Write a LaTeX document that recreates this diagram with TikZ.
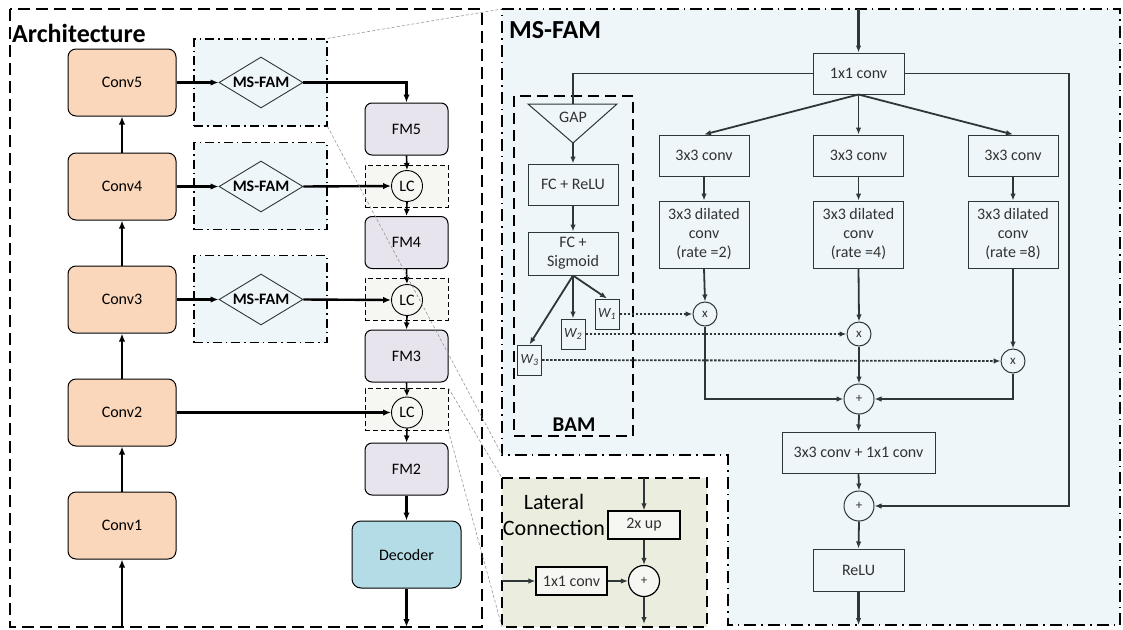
\documentclass[tikz,border=0pt]{standalone}
\usepackage{fontspec}
\setmainfont{Carlito}
\usetikzlibrary{arrows.meta,shapes.geometric}
\newlength{\du}
\setlength{\du}{1pt}

\begin{document}
\begin{tikzpicture}[even odd rule,
  convbox/.style={draw=black, line width=1\du, fill=convfill, rounded corners=8\du,
    minimum width=108\du, minimum height=67\du, inner sep=0pt, font=\fontsize{16}{19}\selectfont},
  fmbox/.style={draw=black, line width=1\du, fill=fmfill, rounded corners=7\du,
    minimum width=83\du, minimum height=52\du, inner sep=0pt, font=\fontsize{16}{19}\selectfont},
  decbox/.style={fmbox, fill=decfill, rounded corners=9\du, minimum width=109\du, minimum height=67\du},
  fambox/.style={draw=black, fill=famfill, line width=1.2\du,
    dash pattern=on 9\du off 4\du on 1.5\du off 4\du, minimum width=133\du, minimum height=87\du},
  famdiamond/.style={shape=diamond, aspect=1.65, draw=famline, fill=famfill, line width=0.9\du,
    minimum width=84\du, minimum height=51\du, inner sep=0pt, font=\bfseries\fontsize{16}{19}\selectfont},
  lcbox/.style={draw=black, fill=lcfill, line width=0.9\du, dash pattern=on 5\du off 3\du,
    minimum width=83\du, minimum height=42\du},
  lcnode/.style={circle, draw=black, fill=lcfill, line width=0.9\du, minimum size=31\du,
    inner sep=0pt, font=\fontsize{16}{19}\selectfont},
  thickarrow/.style={draw=black, line width=2.4\du, -{Latex[length=8pt,width=6.5pt]}},
  linkarrow/.style={draw=black, line width=1.6\du, -{Latex[length=7pt,width=6pt]}},
  archpanel/.style={draw=black, line width=1.8\du, dash pattern=on 12\du off 6\du},
  fampanel/.style={draw=black, fill=famfill, line width=1.8\du,
    dash pattern=on 12\du off 5\du on 1.5\du off 5\du},
  bampanel/.style={draw=black, line width=1.8\du, dash pattern=on 11\du off 6\du},
  latpanel/.style={draw=black, fill=latfill, line width=2.2\du, dash pattern=on 11\du off 6\du},
  zoomline/.style={draw=zoomgray, line width=0.6\du, dash pattern=on 3\du off 2\du},
  opbox/.style={draw=famline, fill=famfill, line width=1\du, text=famtext, align=center,
    minimum width=90\du, minimum height=41\du, inner sep=0pt, font=\fontsize{16}{19}\selectfont},
  wbox/.style={opbox, minimum width=24\du, minimum height=30\du, font=\itshape\fontsize{14}{16}\selectfont},
  opcircle/.style={circle, draw=famline, fill=famfill, line width=1\du, inner sep=0pt,
    text=famtext, font=\fontsize{13}{15}\selectfont},
  famarrow/.style={draw=famline, line width=1.8\du, -{Latex[length=7pt,width=5.5pt]}},
  famlink/.style={draw=famline, line width=1.8\du},
  dotarrow/.style={famarrow, dash pattern=on 2.5\du off 1.5\du},
  titletext/.style={inner sep=0pt, font=\bfseries\fontsize{26}{30}\selectfont}]
\pgftransformxscale{1.000000}
\pgftransformyscale{-1.000000}
\definecolor{convfill}{RGB}{250,214,186}
\definecolor{fmfill}{RGB}{232,228,238}
\definecolor{decfill}{RGB}{180,220,230}
\definecolor{famfill}{RGB}{238,246,249}
\definecolor{lcfill}{RGB}{246,247,242}
\definecolor{latfill}{RGB}{235,238,222}
\definecolor{famline}{RGB}{45,55,55}
\definecolor{famtext}{RGB}{50,50,50}
\definecolor{zoomgray}{RGB}{150,150,150}
\useasboundingbox (0\du,0\du) rectangle (1123\du,629\du);
% panels
\draw[archpanel] (10\du,9\du) rectangle (482\du,627\du);
\coordinate (famNW) at (502\du,9\du);
\coordinate (famSW) at (502\du,455\du);
\draw[fampanel] (famNW) -- (1120\du,9\du) -- (1120\du,625\du) -- (728\du,625\du)
  -- (728\du,455\du) -- (famSW) -- cycle;
\coordinate (latNW) at (502\du,478\du);
\coordinate (latSW) at (502\du,627\du);
\draw[latpanel] (latNW) rectangle (707\du,627\du);
\draw[bampanel] (514\du,96\du) rectangle (633\du,436\du);
% titles
\node[titletext, anchor=west] (archtitle) at (12\du,33\du) {Architecture};
\node[titletext, anchor=west] (famtitle) at (509\du,30\du) {MS-FAM};
\node[titletext, font=\bfseries\fontsize{21}{25}\selectfont] (bamtitle) at (574\du,425\du) {BAM};
\node[inner sep=0pt, align=center, font=\fontsize{22}{26}\selectfont] (lattitle) at (554\du,515\du) {Lateral\\Connection};
% backbone
\node[convbox] (conv5) at (122\du,82.5\du) {Conv5};
\node[convbox] (conv4) at (122\du,186.5\du) {Conv4};
\node[convbox] (conv3) at (122\du,299.5\du) {Conv3};
\node[convbox] (conv2) at (122\du,412.5\du) {Conv2};
\node[convbox] (conv1) at (122\du,525.5\du) {Conv1};
\coordinate (archin) at (122\du,627\du);
\draw[thickarrow] (archin) -- (conv1.south);
\draw[thickarrow] (conv1.north) -- (conv2.south);
\draw[thickarrow] (conv2.north) -- (conv3.south);
\draw[thickarrow] (conv3.north) -- (conv4.south);
\draw[thickarrow] (conv4.north) -- (conv5.south);
% ms-fam blocks
\node[fambox] (famA) at (260.5\du,82.5\du) {};
\node[fambox] (famB) at (260.5\du,186\du) {};
\node[fambox] (famC) at (260.5\du,299\du) {};
\node[famdiamond] (msfamA) at (261\du,82.5\du) {MS-FAM};
\node[famdiamond] (msfamB) at (261\du,186.5\du) {MS-FAM};
\node[famdiamond] (msfamC) at (261\du,299.5\du) {MS-FAM};
\draw[thickarrow] (conv5.east) -- (msfamA.west);
\draw[thickarrow] (conv4.east) -- (msfamB.west);
\draw[thickarrow] (conv3.east) -- (msfamC.west);
% top-down path
\node[fmbox] (fm5) at (406.5\du,129\du) {FM5};
\node[lcbox] (lcboxA) at (406.5\du,186\du) {};
\node[fmbox] (fm4) at (406.5\du,242.5\du) {FM4};
\node[lcbox] (lcboxB) at (406.5\du,299\du) {};
\node[fmbox] (fm3) at (406.5\du,356\du) {FM3};
\node[lcbox] (lcboxC) at (406.5\du,409.5\du) {};
\node[fmbox] (fm2) at (406.5\du,469\du) {FM2};
\node[decbox] (decoder) at (406.5\du,554.5\du) {Decoder};
\node[lcnode] (lcA) at (407\du,186\du) {LC};
\node[lcnode] (lcB) at (407\du,300\du) {LC};
\node[lcnode] (lcC) at (407\du,412.5\du) {LC};
\coordinate (archout) at (406.5\du,627\du);
\draw[thickarrow] (msfamA.east) -| (fm5.north);
\draw[thickarrow] (msfamB.east) -- (lcA.west);
\draw[thickarrow] (msfamC.east) -- (lcB.west);
\draw[thickarrow] (conv2.east) -- (lcC.west);
\draw[linkarrow] (fm5.south) -- (lcA.north);
\draw[linkarrow] (lcA.south) -- (fm4.north);
\draw[linkarrow] (fm4.south) -- (lcB.north);
\draw[linkarrow] (lcB.south) -- (fm3.north);
\draw[linkarrow] (fm3.south) -- (lcC.north);
\draw[linkarrow] (lcC.south) -- (fm2.north);
\draw[thickarrow] (fm2.south) -- (decoder.north);
\draw[thickarrow] (decoder.south) -- (archout);
% zoom guides
\draw[zoomline] (famA.north east) -- (famNW);
\draw[zoomline] (famA.south east) -- (famSW);
\draw[zoomline] (lcboxC.north east) -- (latNW);
\draw[zoomline] (lcboxC.south east) -- (latSW);
% MS-FAM detail
\coordinate (famin) at (858.5\du,9\du);
\node[opbox, minimum width=91\du] (conv1x1) at (858.5\du,73.5\du) {1x1 conv};
\node[opbox] (convA) at (704\du,155.5\du) {3x3 conv};
\node[opbox] (convB) at (858.5\du,155.5\du) {3x3 conv};
\node[opbox] (convC) at (1013\du,155.5\du) {3x3 conv};
\node[opbox, minimum height=67\du] (dilA) at (704\du,234.5\du) {3x3 dilated\\conv\\(rate =2)};
\node[opbox, minimum height=67\du] (dilB) at (858.5\du,234.5\du) {3x3 dilated\\conv\\(rate =4)};
\node[opbox, minimum height=67\du] (dilC) at (1013\du,234.5\du) {3x3 dilated\\conv\\(rate =8)};
\node[opcircle, minimum size=24\du] (mulA) at (705\du,314\du) {x};
\node[opcircle, minimum size=24\du] (mulB) at (859\du,334\du) {x};
\node[opcircle, minimum size=24\du] (mulC) at (1013\du,361\du) {x};
\node[opcircle, minimum size=30\du] (sumA) at (859\du,399\du) {+};
\node[opbox, minimum width=153\du] (mix) at (858.5\du,452.5\du) {3x3 conv + 1x1 conv};
\node[opcircle, minimum size=30\du] (sumB) at (859\du,506\du) {+};
\node[opbox, minimum width=91\du, minimum height=42\du] (relu) at (858.5\du,570\du) {ReLU};
\coordinate (famout) at (858.5\du,625\du);
\coordinate (skipcorner) at (1069\du,73.5\du);
\draw[famarrow, line width=2.4\du] (famin) -- (conv1x1.north);
\draw[famarrow] (conv1x1.south) -- (convA.north);
\draw[famarrow] (conv1x1.south) -- (convB.north);
\draw[famarrow] (conv1x1.south) -- (convC.north);
\draw[famarrow] (convA.south) -- (dilA.north);
\draw[famarrow] (convB.south) -- (dilB.north);
\draw[famarrow] (convC.south) -- (dilC.north);
\draw[famarrow] (dilA.south) -- (mulA.north);
\draw[famarrow] (dilB.south) -- (mulB.north);
\draw[famarrow] (dilC.south) -- (mulC.north);
\draw[famarrow] (mulA.south) |- (sumA.west);
\draw[famarrow] (mulB.south) -- (sumA.north);
\draw[famarrow] (mulC.south) |- (sumA.east);
\draw[famarrow] (sumA.south) -- (mix.north);
\draw[famarrow] (mix.south) -- (sumB.north);
\draw[famarrow] (conv1x1.east) -- (skipcorner) |- (sumB.east);
\draw[famarrow] (sumB.south) -- (relu.north);
\draw[famarrow, line width=2.4\du] (relu.south) -- (famout);
% BAM
\coordinate (gaptop) at (573\du,104\du);
\coordinate (gaptip) at (573\du,143\du);
\draw[draw=famline, fill=famfill, line width=1\du] (528\du,104\du) -- (617\du,104\du) -- (gaptip) -- cycle;
\node[inner sep=0pt, text=famtext, font=\fontsize{16}{19}\selectfont] (gap) at (573\du,117\du) {GAP};
\node[opbox] (fcrelu) at (573\du,184.5\du) {FC + ReLU};
\node[opbox, minimum height=43\du] (fcsig) at (573\du,253.5\du) {FC +\\Sigmoid};
\node[wbox] (wA) at (607\du,314\du) {W\textsubscript{1}};
\node[wbox] (wB) at (573\du,334\du) {W\textsubscript{2}};
\node[wbox] (wC) at (529.5\du,360\du) {W\textsubscript{3}};
\draw[famlink] (conv1x1.west) -| (gaptop);
\draw[famarrow] (gaptip) -- (fcrelu.north);
\draw[famarrow] (fcrelu.south) -- (fcsig.north);
\draw[famarrow] (fcsig.south) -- (wA.north);
\draw[famarrow] (fcsig.south) -- (wB.north);
\draw[famarrow] (fcsig.south) -- (wC.north);
\draw[dotarrow] (wA.east) -- (mulA.west);
\draw[dotarrow] (wB.east) -- (mulB.west);
\draw[dotarrow] (wC.east) -- (mulC.west);
% lateral connection
\coordinate (latin) at (644\du,478\du);
\coordinate (latleft) at (502\du,581\du);
\coordinate (latout) at (644\du,624\du);
\node[opbox, fill=lcfill, draw=black, line width=1.2\du, minimum width=72\du, minimum height=28\du] (upbox) at (644\du,525\du) {2x up};
\node[opbox, fill=lcfill, draw=black, line width=1.2\du, minimum width=71\du, minimum height=28\du] (latconv) at (571.5\du,581\du) {1x1 conv};
\node[opcircle, fill=lcfill, draw=black, line width=1.2\du, minimum size=31\du] (latsum) at (644\du,581\du) {+};
\draw[famarrow, line width=1.4\du] (latin) -- (upbox.north);
\draw[famarrow, line width=1.4\du] (upbox.south) -- (latsum.north);
\draw[famarrow, line width=1.4\du] (latleft) -- (latconv.west);
\draw[famarrow, line width=1.4\du] (latconv.east) -- (latsum.west);
\draw[famarrow, line width=1.4\du] (latsum.south) -- (latout);
\end{tikzpicture}
\end{document}
